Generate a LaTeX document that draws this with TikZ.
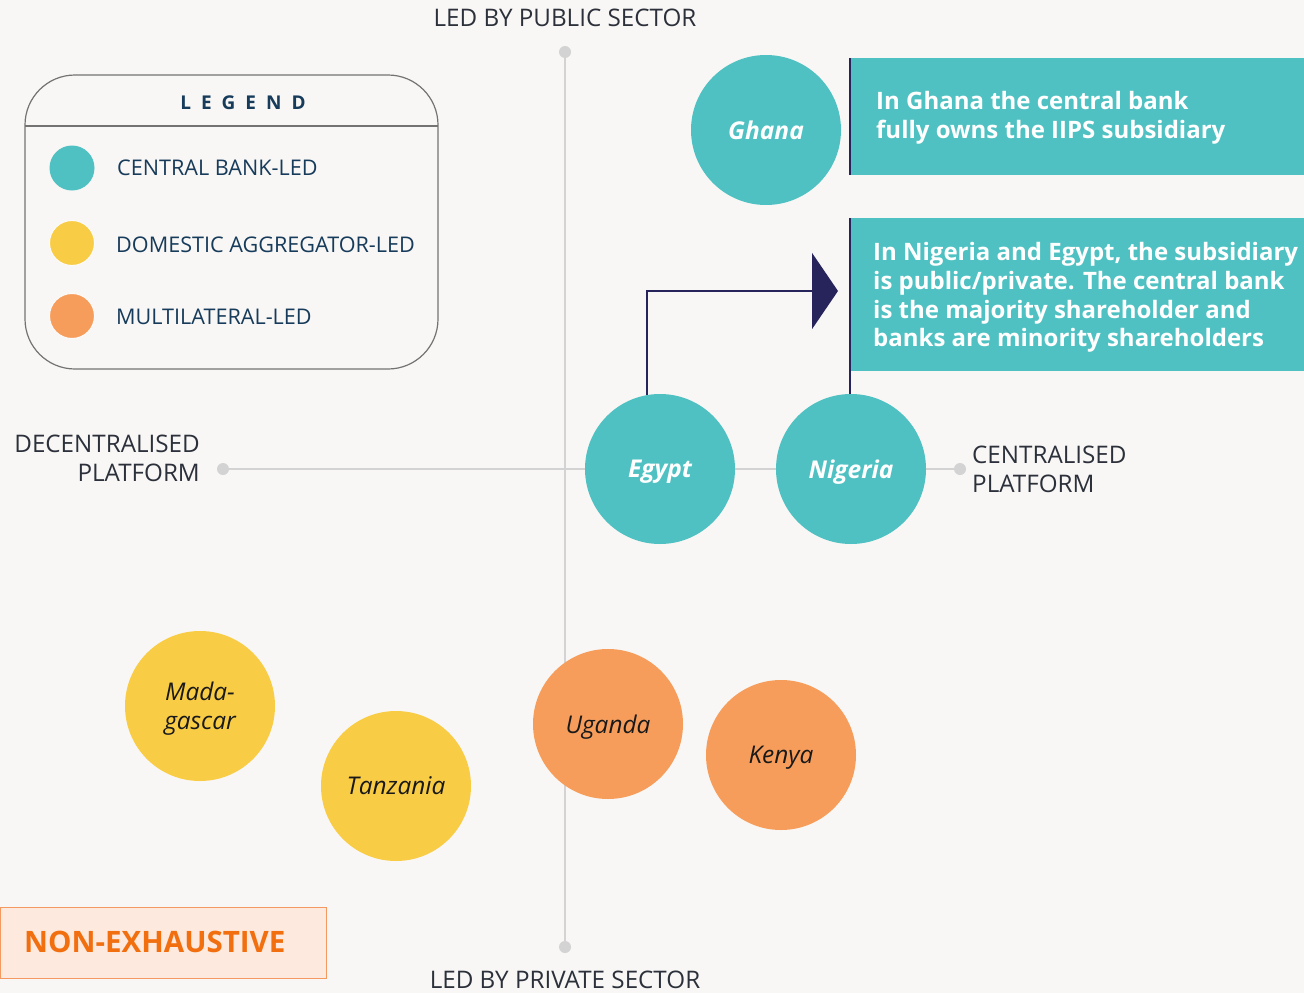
\documentclass[tikz,border=0pt]{standalone}
\usepackage{fontspec}
\setmainfont{Open Sans}
\usetikzlibrary{arrows.meta}
\definecolor{bg}{HTML}{F8F7F5}
\definecolor{cteal}{HTML}{4FC1C2}
\definecolor{cyel}{HTML}{F9CC45}
\definecolor{corg}{HTML}{F79D5B}
\definecolor{cnavy}{HTML}{26245A}
\definecolor{caxis}{HTML}{D3D3D3}
\definecolor{ctxt}{HTML}{2B303A}
\definecolor{clegtxt}{HTML}{173B5A}
\definecolor{cneo}{HTML}{F26F10}
\definecolor{cnefill}{HTML}{FDE9DD}
\definecolor{cneborder}{HTML}{F49A60}
\tikzset{
  axisline/.style={draw=caxis, line width=2pt},
  axdot/.style={circle, fill=caxis, minimum size=12pt, inner sep=0pt},
  axlabel/.style={text=ctxt, font=\fontsize{24.2}{29}\selectfont, inner sep=0pt},
  country/.style={circle, minimum size=150pt, inner sep=0pt, text depth=0pt},
  cblabel/.style={country, fill=cteal, text=white, font=\fontsize{24.5}{29}\selectfont\bfseries\itshape},
  dalabel/.style={country, fill=cyel, text=black!90, font=\fontsize{24.4}{29}\selectfont\itshape, align=center},
  mllabel/.style={country, fill=corg, text=black!90, font=\fontsize{24.4}{29}\selectfont\itshape},
  infobox/.style={rectangle, fill=cteal, inner sep=0pt, anchor=north west},
  infotext/.style={text=white, font=\fontsize{24}{28.7}\selectfont\bfseries, align=left, inner sep=0pt, anchor=west},
  navyline/.style={draw=cnavy, line width=2pt},
  legdot/.style={circle, minimum size=45pt, inner sep=0pt},
  legtext/.style={text=clegtxt, font=\fontsize{21.6}{24}\selectfont, inner sep=0pt, anchor=west},
}
\begin{document}
\begin{tikzpicture}[x=1pt,y=-1pt]
\fill[bg] (0,0) rectangle (1304,993);
\useasboundingbox (0,0) rectangle (1304,993);

% axes
\node[axdot] (top) at (565,52) {};
\node[axdot] (bot) at (565,947) {};
\node[axdot] (left) at (223,469) {};
\node[axdot] (right) at (960,469) {};
\draw[axisline] (top.center) -- (bot.center);
\draw[axisline] (left.center) -- (right.center);

\node[axlabel] (toplab) at (565,18) {LED BY PUBLIC SECTOR};
\node[axlabel] (botlab) at (565,980) {LED BY PRIVATE SECTOR};
\node[axlabel, align=right, anchor=east] (leftlab) at (200,458) {DECENTRALISED\\PLATFORM};
\node[axlabel, align=left, anchor=west] (rightlab) at (972,469) {CENTRALISED\\PLATFORM};

% legend
\draw[draw=black!55, line width=1.2pt, rounded corners=50pt] (25,75) rectangle (438,369);
\coordinate (lgl) at (25,126);
\coordinate (lgr) at (438,126);
\draw[draw=black!55, line width=1.2pt] (lgl) -- (lgr);
\node[text=clegtxt, font=\fontsize{19}{24}\selectfont\bfseries, inner sep=0pt] (legtitle) at (243,103)
  {L\hspace{10pt}E\hspace{10pt}G\hspace{10pt}E\hspace{10pt}N\hspace{10pt}D};
\node[legdot, fill=cteal] (ld1) at (72,168) {};
\node[legdot, fill=cyel, draw=white!80!black!5, line width=1pt] (ld2) at (72,243) {};
\node[legdot, fill=corg, draw=white!80!black!5, line width=1pt] (ld3) at (72,316) {};
\node[legtext] (lt1) at (117,168) {CENTRAL BANK-LED};
\node[legtext] (lt2) at (116,245) {DOMESTIC AGGREGATOR-LED};
\node[legtext] (lt3) at (116,317) {MULTILATERAL-LED};

% info boxes
\node[infobox, minimum width=454pt, minimum height=117pt] (ghbox) at (850,58) {};
\node[infotext] (ghtext) at ([xshift=26pt,yshift=-1pt]ghbox.west) {In Ghana the central bank\\fully owns the IIPS subsidiary};
\draw[navyline] (ghbox.north west) -- (ghbox.south west);

\node[infobox, minimum width=454pt, minimum height=153pt] (ngbox) at (850,218) {};
\node[infotext] (ngtext) at ([xshift=23pt,yshift=-3pt]ngbox.west) {In Nigeria and Egypt, the subsidiary\\is public/private. The central bank\\is the majority shareholder and\\banks are minority shareholders};

% countries
\node[cblabel] (ghana) at (766,130) {Ghana};
\node[cblabel] (egypt) at (660,469) {Egypt};
\node[cblabel] (nigeria) at (851,469) {Nigeria};
\node[dalabel] (madagascar) at (200,706) {Mada-\\gascar};
\node[dalabel] (tanzania) at (396,786) {Tanzania};
\node[mllabel] (uganda) at (608,724) {Uganda};
\node[mllabel] (kenya) at (781,755) {Kenya};

% connectors
\draw[navyline] (ngbox.north west) -- (nigeria.north -| ngbox.west);
\coordinate (arrtip) at (838,291);
\draw[navyline, -{Triangle[length=26pt,width=76pt]}] (egypt.100) |- (arrtip);

% non-exhaustive
\node[rectangle, fill=cnefill, draw=cneborder, line width=1pt, minimum width=326pt, minimum height=71pt, anchor=north west, inner sep=0pt] (nebox) at (0,907) {};
\node[text=cneo, font=\fontsize{29.5}{32}\selectfont\bfseries, anchor=west, inner sep=0pt] (netext) at (24,942) {NON-EXHAUSTIVE};
\end{tikzpicture}
\end{document}
